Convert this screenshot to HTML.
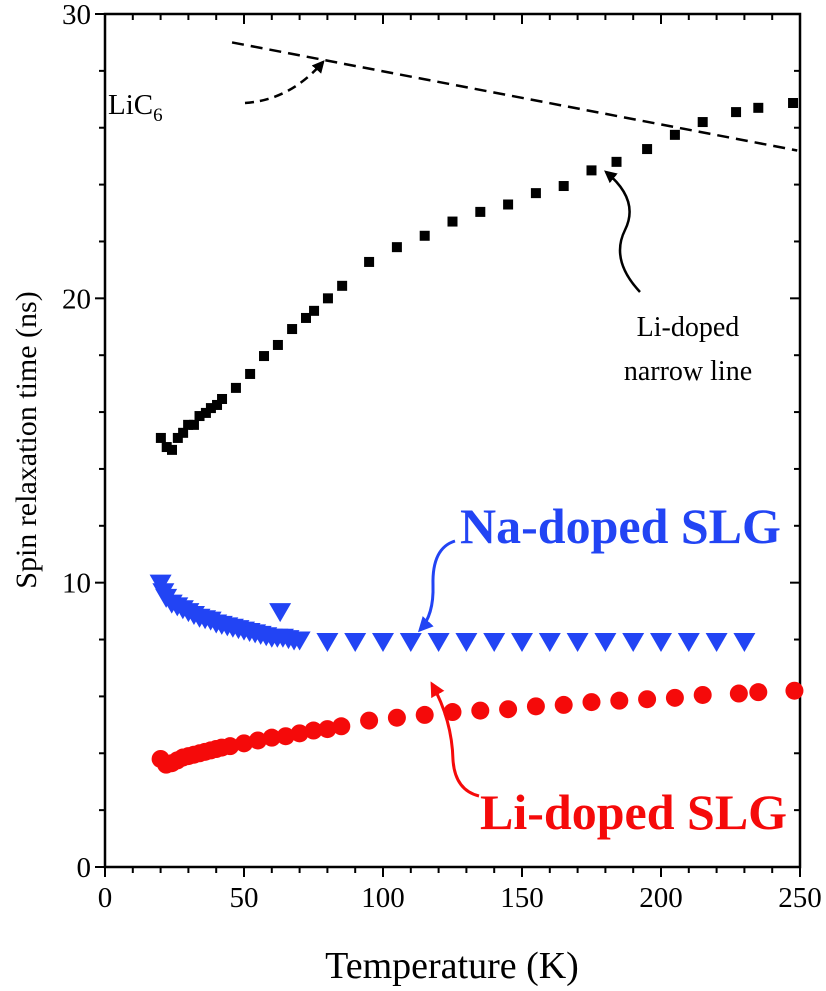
<!DOCTYPE html>
<html><head><meta charset="utf-8"><style>
html,body{margin:0;padding:0;background:#fff;}
svg{display:block;font-family:"Liberation Serif",serif;}
</style></head><body>
<svg id="chart" width="826" height="991" viewBox="0 0 826 991">
<defs>
<marker id="ah" viewBox="0 0 10 10" refX="8" refY="5" markerWidth="5" markerHeight="5" orient="auto"><path d="M0,0 L10,5 L0,10 z" fill="#000"/></marker>
<marker id="ahb" viewBox="0 0 10 10" refX="8" refY="5" markerWidth="5" markerHeight="5" orient="auto"><path d="M0,0 L10,5 L0,10 z" fill="#2244f4"/></marker>
<marker id="ahr" viewBox="0 0 10 10" refX="8" refY="5" markerWidth="5" markerHeight="5" orient="auto"><path d="M0,0 L10,5 L0,10 z" fill="#f50a0a"/></marker>
</defs>
<g id="axes"></g>
<g id="marks"></g>
<g id="annot">
<text x="108" y="114" font-size="29">LiC<tspan font-size="19" dy="7">6</tspan></text>
<path d="M245,103 Q290,100 323,62" fill="none" stroke="#000" stroke-width="2.5" stroke-dasharray="9,6" marker-end="url(#ah)"/>
<text x="688" y="336" font-size="28" text-anchor="middle">Li-doped</text>
<text x="688" y="380" font-size="28" text-anchor="middle">narrow line</text>
<path d="M640,292 Q610,260 625,230 Q640,200 606,172" fill="none" stroke="#000" stroke-width="2.5" marker-end="url(#ah)"/>
<text x="460" y="543" font-size="50" font-weight="bold" fill="#2244f4">Na-doped SLG</text>
<path d="M455,541 Q432,548 433,585 Q434,615 420,630" fill="none" stroke="#2244f4" stroke-width="3" marker-end="url(#ahb)"/>
<text x="480" y="829" font-size="50" font-weight="bold" fill="#f50a0a">Li-doped SLG</text>
<path d="M479,796 Q455,790 453,760 Q452,720 432,684" fill="none" stroke="#f50a0a" stroke-width="3" marker-end="url(#ahr)"/>
</g>
</svg>
<script>
const xTicks=[0,50,100,150,200,250];
const yTicks=[0,10,20,30];
const liNarrowT=[20.1,22.2,24.1,26.2,28.1,29.9,32,34,36.3,38.1,40.3,42.1,47.1,52.2,57.2,62.2,67.3,72.3,75.2,80.2,85.3,95,105,115,125,135,145,155,165,175,184,195,205,215,227,235,247.5];
const liNarrowV=[15.09,14.77,14.67,15.09,15.27,15.55,15.55,15.86,15.97,16.14,16.25,16.46,16.85,17.34,17.97,18.36,18.92,19.31,19.56,20.0,20.44,21.28,21.8,22.2,22.7,23.04,23.3,23.7,23.95,24.5,24.8,25.25,25.75,26.2,26.55,26.7,26.87];
const naT=[20,21,22,24,26,28,30,32,34,36,38,40,42,44,46,48,50,52,54,56,58,60,62,63,64,66,68,70,80,90,100,110,120,130,140,150,160,170,180,190,200,210,220,230];
const naV=[10.0,9.7,9.5,9.3,9.2,9.1,9.0,8.9,8.8,8.75,8.7,8.6,8.55,8.5,8.45,8.4,8.35,8.3,8.25,8.2,8.15,8.1,8.1,9.0,8.1,8.05,8.0,8.0,7.95,7.95,7.95,7.95,7.95,7.95,7.95,7.95,7.95,7.95,7.95,7.95,7.95,7.95,7.95,7.95];
const liSlgT=[20,22,24,26,28,30,32,34,36,38,40,42,45,50,55,60,65,70,75,80,85,95,105,115,125,135,145,155,165,175,185,195,205,215,228,235,248];
const liSlgV=[3.8,3.6,3.65,3.75,3.85,3.9,3.95,4.0,4.05,4.1,4.15,4.2,4.25,4.35,4.45,4.55,4.6,4.7,4.8,4.85,4.95,5.15,5.25,5.35,5.45,5.5,5.55,5.65,5.7,5.8,5.85,5.9,5.95,6.05,6.1,6.15,6.2];
const licT=[45.7,249];
const licV=[29.0,25.2];

const X0=105,X1=800,Y0=867,Y1=14;
const sx=t=>X0+(t/250)*(X1-X0);
const sy=v=>Y0-(v/30)*(Y0-Y1);
const NS="http://www.w3.org/2000/svg";
function mk(tag,attrs,parent){const e=document.createElementNS(NS,tag);for(const k in attrs)e.setAttribute(k,attrs[k]);parent.appendChild(e);return e;}
const ax=document.getElementById('axes'),mg=document.getElementById('marks');

const frame=mk('rect',{x:X0,y:Y1,width:X1-X0,height:Y0-Y1,fill:'none',stroke:'#000','stroke-width':2.5},ax);


for(let t=0;t<=250;t+=10){
  const L=(t%50===0)?10:6;
  const b=mk('line',{x1:sx(t),x2:sx(t),y1:Y0,y2:Y0+L,stroke:'#000','stroke-width':2},ax);
  
  
  const tp=mk('line',{x1:sx(t),x2:sx(t),y1:Y1,y2:Y1+L,stroke:'#000','stroke-width':2},ax);
  
  
}
for(let v=0;v<=30;v+=2){
  const L=(v%10===0)?10:6;
  const l=mk('line',{x1:X0-L,x2:X0,y1:sy(v),y2:sy(v),stroke:'#000','stroke-width':2},ax);
  
  
  const r=mk('line',{x1:X1-L,x2:X1,y1:sy(v),y2:sy(v),stroke:'#000','stroke-width':2},ax);
  
  
}
xTicks.forEach(t=>{
  const e=mk('text',{x:sx(t),y:Y0+40,'font-size':29,'text-anchor':'middle'},ax);
  e.textContent=t;
  
  
});
yTicks.forEach(v=>{
  const e=mk('text',{x:X0-14,y:sy(v)+10,'font-size':29,'text-anchor':'end'},ax);
  e.textContent=v;
  
  
});
const xt=mk('text',{x:452,y:978,'font-size':38,'text-anchor':'middle'},ax);
xt.textContent='Temperature (K)';


const yt=mk('text',{x:0,y:0,'font-size':30,'text-anchor':'middle',transform:'translate(36,440) rotate(-90)'},ax);
yt.textContent='Spin relaxation time (ns)';



const dl=mk('line',{x1:sx(licT[0]),y1:sy(licV[0]),x2:sx(licT[1]),y2:sy(licV[1]),stroke:'#000','stroke-width':2.5,'stroke-dasharray':'12,7'},mg);



liSlgT.forEach((t,i)=>{
  const c=mk('circle',{cx:sx(t),cy:sy(liSlgV[i]),r:9,fill:'#f50a0a'},mg);
  
  
});
naT.forEach((t,i)=>{
  const x=sx(t),y=sy(naV[i]);
  const p=mk('path',{d:`M${x-11},${y-8} L${x+11},${y-8} L${x},${y+11} Z`,fill:'#2244f4'},mg);
  
  
});
liNarrowT.forEach((t,i)=>{
  const r=mk('rect',{x:sx(t)-5,y:sy(liNarrowV[i])-5,width:10,height:10,fill:'#000'},mg);
  
  
});
</script>
</body></html>
